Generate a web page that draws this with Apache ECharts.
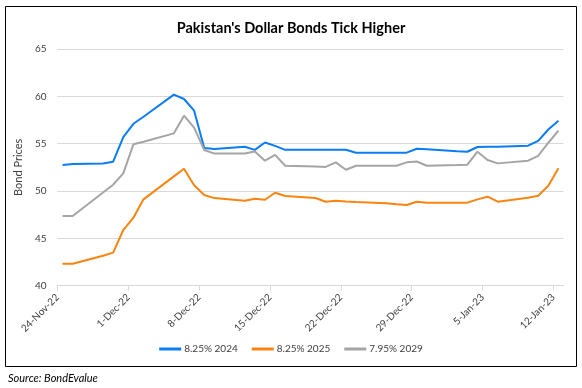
<!DOCTYPE html>
<html>
<head>
<meta charset="utf-8">
<script src="https://cdn.jsdelivr.net/npm/echarts@6/dist/echarts.min.js"></script>
<style>
html,body{margin:0;padding:0;background:#fff;}
#c{width:582px;height:388px;}
</style>
</head>
<body>
<div id="c"></div>
<script>
// ---- data ----
const dates = ['2022-11-24','2022-11-25','2022-11-28','2022-11-29','2022-11-30','2022-12-01','2022-12-02',
  '2022-12-05','2022-12-06','2022-12-07','2022-12-08','2022-12-09','2022-12-12','2022-12-13','2022-12-14',
  '2022-12-15','2022-12-16','2022-12-19','2022-12-20','2022-12-21','2022-12-22','2022-12-23','2022-12-26',
  '2022-12-27','2022-12-28','2022-12-29','2022-12-30','2023-01-02','2023-01-03','2023-01-04','2023-01-05',
  '2023-01-06','2023-01-09','2023-01-10','2023-01-11','2023-01-12'];
const bond2024 = [52.75,52.85,52.9,53.1,55.7,57.1,57.85,60.18,59.72,58.49,54.54,54.43,54.68,54.35,55.12,
  54.77,54.35,54.35,54.35,54.35,54.35,54.05,54.05,54.05,54.05,54.47,54.42,54.2,54.15,54.65,54.67,
  54.68,54.79,55.3,56.5,57.42];
const bond2025 = [42.32,42.32,43.17,43.49,45.88,47.18,49.12,51.55,52.36,50.6,49.58,49.25,48.98,49.19,49.08,
  49.82,49.47,49.26,48.87,48.98,48.9,48.84,48.7,48.6,48.52,48.87,48.77,48.77,48.77,49.12,49.4,
  48.87,49.3,49.5,50.55,52.4];
const bond2029 = [47.36,47.36,49.84,50.67,51.87,54.93,55.2,56.09,57.96,56.69,54.33,53.95,53.96,54.17,53.2,
  53.82,52.67,52.6,52.55,53.03,52.25,52.67,52.67,52.67,53.03,53.12,52.67,52.74,52.78,54.15,53.27,
  52.92,53.2,53.72,55.1,56.37];
const seriesNames = ['8.25% 2024','8.25% 2025','7.95% 2029'];
const tickLabels = ['24-Nov-22','1-Dec-22','8-Dec-22','15-Dec-22','22-Dec-22','29-Dec-22','5-Jan-23','12-Jan-23'];
const yTicks = [40,45,50,55,60,65];

// ---- build ----
const t0 = Date.UTC(2022,10,24);
function dayPos(s){ const p=s.split('-'); return (Date.UTC(+p[0],+p[1]-1,+p[2])-t0)/86400000 + 0.5; }
const xs = dates.map(dayPos);
function pairs(arr){ return arr.map((v,i)=>[xs[i],v]); }
const tickVals = tickLabels.map((_,i)=>i*7);
const colors = ['#0a7cf5','#f98410','#a5a5a5'];
const font = 'Lato, "Open Sans", "Liberation Sans", sans-serif';

const chart = echarts.init(document.getElementById('c'), null, {renderer:'canvas'});
chart.setOption({
  animation:false,
  color: colors,
  title:{text:"Pakistan's Dollar Bonds Tick Higher", left:'center', top:16,
    textStyle:{fontFamily:font, fontSize:14.5, fontWeight:'bold', color:'#000'}},
  grid:{left:57.5, right:18.5, top:49, bottom:102.3, containLabel:false},
  legend:{bottom:29, left:'center', itemWidth:22, itemHeight:3, itemGap:14, icon:'rect',
    textStyle:{fontFamily:font, fontSize:10, color:'#404040', padding:[0,0,0,-2]},
    data: seriesNames},
  xAxis:{type:'value', min:0, max:50, interval:7,
    axisLine:{show:true, lineStyle:{color:'#d9d9d9'}},
    axisTick:{show:true, length:5, lineStyle:{color:'#d9d9d9'}, customValues: tickVals},
    axisLabel:{rotate:45, fontFamily:font, fontSize:10, color:'#404040', margin:10,
      customValues: tickVals,
      formatter:(v)=>{ const i=Math.round(v/7); return tickLabels[i]||''; }},
    splitLine:{show:false}},
  yAxis:{type:'value', min:yTicks[0], max:yTicks[yTicks.length-1], interval:5,
    name:'Bond Prices', nameLocation:'middle', nameGap:23, nameRotate:90,
    nameTextStyle:{fontFamily:font, fontSize:11, color:'#404040'},
    axisLine:{show:false}, axisTick:{show:false},
    axisLabel:{fontFamily:font, fontSize:10, color:'#404040', margin:11},
    splitLine:{lineStyle:{color:'#d9d9d9', width:1}}},
  series:[
    {name:seriesNames[0], type:'line', data:pairs(bond2024), symbol:'none', lineStyle:{width:2}},
    {name:seriesNames[1], type:'line', data:pairs(bond2025), symbol:'none', lineStyle:{width:2}},
    {name:seriesNames[2], type:'line', data:pairs(bond2029), symbol:'none', lineStyle:{width:2}}
  ],
  graphic:[
    {type:'rect', shape:{x:5.5, y:6.5, width:571, height:360}, style:{fill:null, stroke:'#000', lineWidth:1}, silent:true},
    {type:'text', left:8, top:373, style:{text:'Source: BondEvalue', font:'italic 11px '+font, fill:'#000'}}
  ]
});
</script>
</body>
</html>
